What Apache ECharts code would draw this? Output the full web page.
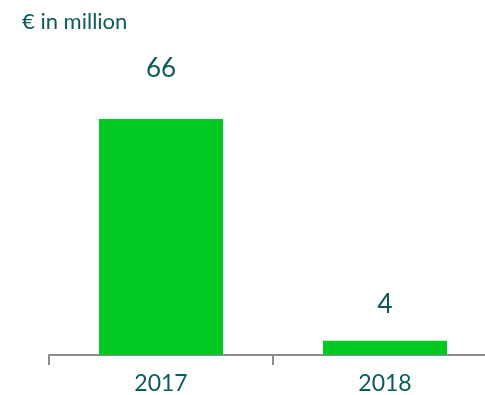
<!DOCTYPE html>
<html>
<head>
<meta charset="utf-8">
<script src="https://cdn.jsdelivr.net/npm/echarts@6/dist/echarts.min.js"></script>
<style>
html,body{margin:0;padding:0;background:#fff;}
#c{width:485px;height:395px;}
</style>
</head>
<body>
<div id="c"></div>
<script>
const categories = ["2017", "2018"];
const values = [66, 4];
const unitTitle = "€ in million";

const textColor = "#0b5c5a";
const chart = echarts.init(document.getElementById("c"), null, {renderer: "canvas"});
chart.setOption({
  animation: false,
  title: {
    text: unitTitle,
    left: 17,
    top: 6,
    textStyle: {color: textColor, fontFamily: "Lato", fontWeight: "normal", fontSize: 22}
  },
  grid: {left: 49, top: 119, width: 448, height: 236, containLabel: false, outerBoundsMode: "none"},
  xAxis: {
    type: "category",
    data: categories,
    axisLine: {lineStyle: {color: "#8c8c8c", width: 2}},
    axisTick: {show: true, length: 10, lineStyle: {color: "#8c8c8c", width: 2}},
    axisLabel: {color: textColor, fontFamily: "Lato", fontSize: 23, margin: 17}
  },
  yAxis: {type: "value", min: 0, max: 66, show: false, splitLine: {show: false}},
  series: [{
    type: "bar",
    barWidth: 124,
    itemStyle: {color: "#00c921"},
    data: values.map((v, i) => ({
      value: v,
      label: {distance: i === 0 ? 37 : 23}
    })),
    label: {
      show: true,
      position: "top",
      color: textColor,
      fontFamily: "Lato",
      fontSize: 26
    }
  }]
});
</script>
</body>
</html>
